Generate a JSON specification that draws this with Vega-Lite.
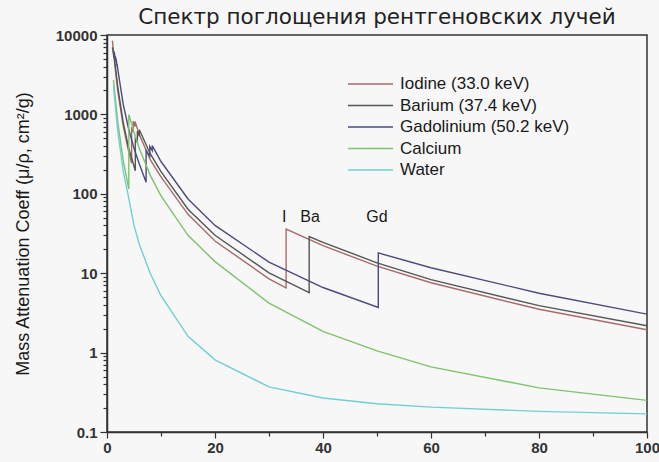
{
  "$schema": "https://vega.github.io/schema/vega-lite/v6.json",
  "width": 540,
  "height": 397,
  "autosize": "none",
  "padding": {"left": 107, "top": 35, "right": 12, "bottom": 30},
  "background": "#f7f7f7",
  "config": {
    "view": {"stroke": "#333333", "strokeWidth": 1.5},
    "font": "Liberation Sans",
    "axis": {
      "domainColor": "#333333", "domainWidth": 1.5, "tickColor": "#333333", "tickWidth": 1.2,
      "labelFont": "Liberation Sans", "labelFontSize": 15, "labelFontWeight": "bold", "labelColor": "#333333",
      "titleFont": "Liberation Sans", "titleFontSize": 18, "titleFontWeight": "normal", "titleColor": "#1a1a1a",
      "grid": false
    }
  },
  "title": {"text": "Спектр поглощения рентгеновских лучей", "font": "DejaVu Sans", "fontSize": 21.5, "fontWeight": "normal", "color": "#222222", "anchor": "middle", "offset": 0},
  "layer": [
    {
      "data": {"values": [
        {"s":"Iodine (33.0 keV)","k":1,"E":1.0,"mu":8500},{"s":"Iodine (33.0 keV)","k":2,"E":1.5,"mu":3900},{"s":"Iodine (33.0 keV)","k":3,"E":2,"mu":1960},{"s":"Iodine (33.0 keV)","k":4,"E":3,"mu":719},{"s":"Iodine (33.0 keV)","k":5,"E":4,"mu":342},{"s":"Iodine (33.0 keV)","k":6,"E":4.557,"mu":243},{"s":"Iodine (33.0 keV)","k":7,"E":4.557,"mu":691},{"s":"Iodine (33.0 keV)","k":8,"E":4.852,"mu":598},{"s":"Iodine (33.0 keV)","k":9,"E":4.852,"mu":820},{"s":"Iodine (33.0 keV)","k":10,"E":5.188,"mu":702},{"s":"Iodine (33.0 keV)","k":11,"E":5.188,"mu":813},{"s":"Iodine (33.0 keV)","k":12,"E":6,"mu":556},{"s":"Iodine (33.0 keV)","k":13,"E":8,"mu":269},{"s":"Iodine (33.0 keV)","k":14,"E":10,"mu":163},{"s":"Iodine (33.0 keV)","k":15,"E":15,"mu":55.2},{"s":"Iodine (33.0 keV)","k":16,"E":20,"mu":25.4},{"s":"Iodine (33.0 keV)","k":17,"E":30,"mu":8.5},{"s":"Iodine (33.0 keV)","k":18,"E":33.17,"mu":6.55},{"s":"Iodine (33.0 keV)","k":19,"E":33.17,"mu":35.9},{"s":"Iodine (33.0 keV)","k":20,"E":40,"mu":22.2},{"s":"Iodine (33.0 keV)","k":21,"E":50,"mu":12.3},{"s":"Iodine (33.0 keV)","k":22,"E":60,"mu":7.58},{"s":"Iodine (33.0 keV)","k":23,"E":80,"mu":3.51},{"s":"Iodine (33.0 keV)","k":24,"E":100,"mu":1.94},
        {"s":"Barium (37.4 keV)","k":1,"E":1.0,"mu":7000},{"s":"Barium (37.4 keV)","k":2,"E":1.293,"mu":5200},{"s":"Barium (37.4 keV)","k":3,"E":1.293,"mu":5600},{"s":"Barium (37.4 keV)","k":4,"E":1.5,"mu":4300},{"s":"Barium (37.4 keV)","k":5,"E":2,"mu":2200},{"s":"Barium (37.4 keV)","k":6,"E":3,"mu":790},{"s":"Barium (37.4 keV)","k":7,"E":4,"mu":380},{"s":"Barium (37.4 keV)","k":8,"E":5.247,"mu":195},{"s":"Barium (37.4 keV)","k":9,"E":5.247,"mu":520},{"s":"Barium (37.4 keV)","k":10,"E":5.624,"mu":440},{"s":"Barium (37.4 keV)","k":11,"E":5.624,"mu":620},{"s":"Barium (37.4 keV)","k":12,"E":5.989,"mu":530},{"s":"Barium (37.4 keV)","k":13,"E":5.989,"mu":640},{"s":"Barium (37.4 keV)","k":14,"E":8,"mu":320},{"s":"Barium (37.4 keV)","k":15,"E":10,"mu":190},{"s":"Barium (37.4 keV)","k":16,"E":15,"mu":64},{"s":"Barium (37.4 keV)","k":17,"E":20,"mu":30},{"s":"Barium (37.4 keV)","k":18,"E":30,"mu":10.1},{"s":"Barium (37.4 keV)","k":19,"E":37.44,"mu":5.7},{"s":"Barium (37.4 keV)","k":20,"E":37.44,"mu":29},{"s":"Barium (37.4 keV)","k":21,"E":40,"mu":24.5},{"s":"Barium (37.4 keV)","k":22,"E":50,"mu":13.5},{"s":"Barium (37.4 keV)","k":23,"E":60,"mu":8.3},{"s":"Barium (37.4 keV)","k":24,"E":80,"mu":3.9},{"s":"Barium (37.4 keV)","k":25,"E":100,"mu":2.18},
        {"s":"Gadolinium (50.2 keV)","k":1,"E":1.3,"mu":6200},{"s":"Gadolinium (50.2 keV)","k":2,"E":1.54,"mu":5000},{"s":"Gadolinium (50.2 keV)","k":3,"E":1.54,"mu":5400},{"s":"Gadolinium (50.2 keV)","k":4,"E":1.69,"mu":4600},{"s":"Gadolinium (50.2 keV)","k":5,"E":1.69,"mu":5000},{"s":"Gadolinium (50.2 keV)","k":6,"E":1.88,"mu":4000},{"s":"Gadolinium (50.2 keV)","k":7,"E":1.88,"mu":4300},{"s":"Gadolinium (50.2 keV)","k":8,"E":2,"mu":3700},{"s":"Gadolinium (50.2 keV)","k":9,"E":3,"mu":1350},{"s":"Gadolinium (50.2 keV)","k":10,"E":4,"mu":660},{"s":"Gadolinium (50.2 keV)","k":11,"E":5,"mu":375},{"s":"Gadolinium (50.2 keV)","k":12,"E":6,"mu":235},{"s":"Gadolinium (50.2 keV)","k":13,"E":7.243,"mu":140},{"s":"Gadolinium (50.2 keV)","k":14,"E":7.243,"mu":350},{"s":"Gadolinium (50.2 keV)","k":15,"E":7.93,"mu":300},{"s":"Gadolinium (50.2 keV)","k":16,"E":7.93,"mu":395},{"s":"Gadolinium (50.2 keV)","k":17,"E":8.376,"mu":350},{"s":"Gadolinium (50.2 keV)","k":18,"E":8.376,"mu":405},{"s":"Gadolinium (50.2 keV)","k":19,"E":10,"mu":255},{"s":"Gadolinium (50.2 keV)","k":20,"E":15,"mu":86},{"s":"Gadolinium (50.2 keV)","k":21,"E":20,"mu":40},{"s":"Gadolinium (50.2 keV)","k":22,"E":30,"mu":13.8},{"s":"Gadolinium (50.2 keV)","k":23,"E":40,"mu":6.6},{"s":"Gadolinium (50.2 keV)","k":24,"E":50.24,"mu":3.7},{"s":"Gadolinium (50.2 keV)","k":25,"E":50.24,"mu":18},{"s":"Gadolinium (50.2 keV)","k":26,"E":60,"mu":11.7},{"s":"Gadolinium (50.2 keV)","k":27,"E":80,"mu":5.6},{"s":"Gadolinium (50.2 keV)","k":28,"E":100,"mu":3.05},
        {"s":"Calcium","k":1,"E":1.2,"mu":2700},{"s":"Calcium","k":2,"E":1.5,"mu":1700},{"s":"Calcium","k":3,"E":2,"mu":800},{"s":"Calcium","k":4,"E":3,"mu":262},{"s":"Calcium","k":5,"E":4.038,"mu":115},{"s":"Calcium","k":6,"E":4.038,"mu":1000},{"s":"Calcium","k":7,"E":5,"mu":600},{"s":"Calcium","k":8,"E":6,"mu":370},{"s":"Calcium","k":9,"E":8,"mu":172},{"s":"Calcium","k":10,"E":10,"mu":94},{"s":"Calcium","k":11,"E":15,"mu":30},{"s":"Calcium","k":12,"E":20,"mu":14},{"s":"Calcium","k":13,"E":30,"mu":4.2},{"s":"Calcium","k":14,"E":40,"mu":1.85},{"s":"Calcium","k":15,"E":50,"mu":1.05},{"s":"Calcium","k":16,"E":60,"mu":0.66},{"s":"Calcium","k":17,"E":80,"mu":0.36},{"s":"Calcium","k":18,"E":100,"mu":0.25},
        {"s":"Water","k":1,"E":1.2,"mu":2300},{"s":"Water","k":2,"E":1.5,"mu":1376},{"s":"Water","k":3,"E":2,"mu":617},{"s":"Water","k":4,"E":3,"mu":193},{"s":"Water","k":5,"E":4,"mu":90},{"s":"Water","k":6,"E":5,"mu":40},{"s":"Water","k":7,"E":6,"mu":23},{"s":"Water","k":8,"E":8,"mu":10},{"s":"Water","k":9,"E":10,"mu":5.2},{"s":"Water","k":10,"E":15,"mu":1.6},{"s":"Water","k":11,"E":20,"mu":0.81},{"s":"Water","k":12,"E":30,"mu":0.37},{"s":"Water","k":13,"E":40,"mu":0.268},{"s":"Water","k":14,"E":50,"mu":0.227},{"s":"Water","k":15,"E":60,"mu":0.206},{"s":"Water","k":16,"E":80,"mu":0.182},{"s":"Water","k":17,"E":100,"mu":0.169}
      ]},
      "mark": {"type": "line", "strokeWidth": 1.4, "clip": true},
      "encoding": {
        "x": {"field": "E", "type": "quantitative", "scale": {"domain": [0, 100], "nice": false},
          "axis": {"title": null, "values": [0,10,20,30,40,50,60,70,80,90,100], "labelExpr": "datum.value % 20 === 0 ? datum.label : ''", "tickSize": {"condition": {"test": "datum.value % 20 === 0", "value": 6}, "value": 4}, "labelPadding": 2, "labelFlush": false, "labelOverlap": false}},
        "y": {"field": "mu", "type": "quantitative", "scale": {"type": "log", "domain": [0.1, 10000], "nice": false},
          "axis": {"title": "Mass Attenuation Coeff (μ/ρ, cm²/g)", "titlePadding": 23,
            "values": [0.1,0.2,0.3,0.4,0.5,0.6,0.7,0.8,0.9,1,2,3,4,5,6,7,8,9,10,20,30,40,50,60,70,80,90,100,200,300,400,500,600,700,800,900,1000,2000,3000,4000,5000,6000,7000,8000,9000,10000],
            "labelExpr": "datum.value==0.1 ? '0.1' : (datum.value==1||datum.value==10||datum.value==100||datum.value==1000||datum.value==10000) ? format(datum.value, 'd') : ''",
            "tickSize": {"condition": {"test": "datum.value==0.1||datum.value==1||datum.value==10||datum.value==100||datum.value==1000||datum.value==10000", "value": 7}, "value": 4},
            "labelOverlap": false, "labelFlush": false, "labelPadding": 3}},
        "color": {"field": "s", "type": "nominal",
          "scale": {"domain": ["Iodine (33.0 keV)", "Barium (37.4 keV)", "Gadolinium (50.2 keV)", "Calcium", "Water"],
                    "range": ["#a86a6a", "#555555", "#4b4b7d", "#7dc46a", "#6dd0d6"]},
          "legend": {"title": null, "orient": "none", "legendX": 253.5, "legendY": 39, "padding": 0,
            "symbolType": "M-2.5,0H2.5", "symbolSize": 324, "symbolStrokeWidth": 1.4, "labelOffset": 19.5, "rowPadding": 3.5,
            "labelFont": "Liberation Sans", "labelFontSize": 17, "labelColor": "#1a1a1a", "labelLimit": 400}},
        "order": {"field": "k", "type": "quantitative"}
      }
    },
    {
      "data": {"values": [
        {"E": 32.8, "mu": 51, "label": "I"},
        {"E": 37.6, "mu": 51, "label": "Ba"},
        {"E": 50.0, "mu": 51, "label": "Gd"}
      ]},
      "mark": {"type": "text", "font": "Liberation Sans", "fontSize": 16, "color": "#1a1a1a", "baseline": "middle", "align": "center"},
      "encoding": {
        "x": {"field": "E", "type": "quantitative"},
        "y": {"field": "mu", "type": "quantitative"},
        "text": {"field": "label"}
      }
    }
  ]
}
